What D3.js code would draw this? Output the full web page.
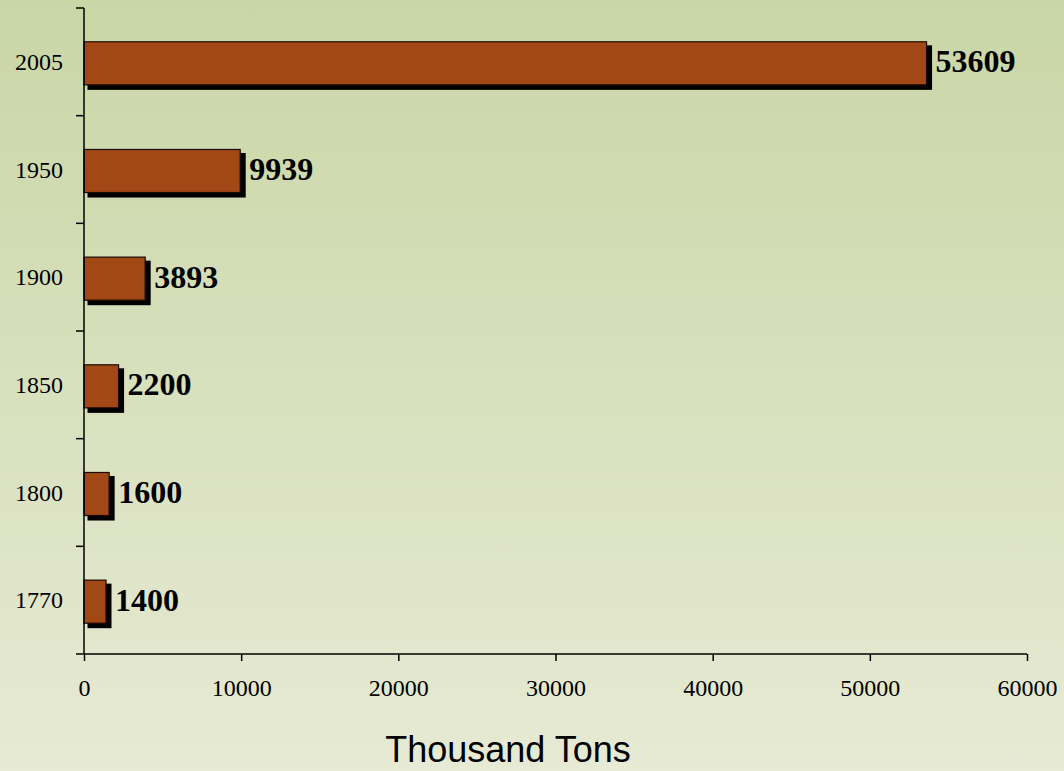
<!DOCTYPE html>
<html>
<head>
<meta charset="utf-8">
<script src="https://cdn.jsdelivr.net/npm/d3@7/dist/d3.min.js"></script>
<style>
  html, body { margin: 0; padding: 0; }
  svg { display: block; }
</style>
</head>
<body>
<script>
// Production by year, thousand tons
const years = ["2005", "1950", "1900", "1850", "1800", "1770"];
const values = [53609, 9939, 3893, 2200, 1600, 1400];
const xTicks = [0, 10000, 20000, 30000, 40000, 50000, 60000];
const axisTitle = "Thousand Tons";

const W = 1064, H = 771;
const plotLeft = 84, plotRight = 1027, plotTop = 8, plotBottom = 654;
const serif = "'Liberation Serif', 'Times New Roman', serif";

const svg = d3.select("body").append("svg")
  .attr("width", W).attr("height", H);

const defs = svg.append("defs");
const grad = defs.append("linearGradient")
  .attr("id", "bg").attr("x1", 0).attr("y1", 0).attr("x2", 0).attr("y2", 1);
grad.append("stop").attr("offset", "0%").attr("stop-color", "#c9d6a6");
grad.append("stop").attr("offset", "100%").attr("stop-color", "#e7ead4");
svg.append("rect").attr("width", W).attr("height", H).attr("fill", "url(#bg)");

const x = d3.scaleLinear().domain([0, 60000]).range([plotLeft, plotRight]);
const y = d3.scaleBand().domain(years).range([plotTop + 1.5, plotBottom + 1.5]).paddingInner(0.6).paddingOuter(0.3);
const yEdges = d3.scaleBand().domain(years).range([plotTop, plotBottom]);

const bars = svg.append("g");
const bh = y.bandwidth();

// drop shadows
bars.selectAll("rect.shadow").data(values).join("rect")
  .attr("class", "shadow")
  .attr("x", x(0) + 3.5)
  .attr("y", (d, i) => y(years[i]) + 3.5)
  .attr("width", d => x(d) - x(0) + 2)
  .attr("height", bh + 1.5)
  .attr("fill", "#000");

// bars
bars.selectAll("rect.bar").data(values).join("rect")
  .attr("class", "bar")
  .attr("x", x(0))
  .attr("y", (d, i) => y(years[i]))
  .attr("width", d => x(d) - x(0))
  .attr("height", bh)
  .attr("fill", "#a24816")
  .attr("stroke", "#1a0a00")
  .attr("stroke-width", 1.2);

// value labels
bars.selectAll("text.val").data(values).join("text")
  .attr("class", "val")
  .attr("x", d => x(d) + 9)
  .attr("y", (d, i) => y(years[i]) + bh / 2 + 9)
  .attr("font-family", serif)
  .attr("font-weight", "bold")
  .attr("font-size", 32)
  .attr("fill", "#000")
  .text(d => d);

// y axis: line and ticks at band edges
const yAxis = svg.append("g");
yAxis.append("line")
  .attr("x1", plotLeft).attr("x2", plotLeft).attr("y1", plotTop).attr("y2", plotBottom)
  .attr("stroke", "#000").attr("stroke-width", 1.5);
const edges = years.map(d => yEdges(d)).concat([plotBottom]);
yAxis.selectAll("line.tick").data(edges).join("line")
  .attr("class", "tick")
  .attr("x1", plotLeft - 8).attr("x2", plotLeft)
  .attr("y1", d => d).attr("y2", d => d)
  .attr("stroke", "#000").attr("stroke-width", 1.5);
yAxis.selectAll("text").data(years).join("text")
  .attr("x", plotLeft - 21)
  .attr("y", d => yEdges(d) + yEdges.bandwidth() / 2 + 8)
  .attr("text-anchor", "end")
  .attr("font-family", serif)
  .attr("font-size", 24)
  .attr("fill", "#000")
  .text(d => d);

// x axis
const xAxis = svg.append("g")
  .attr("transform", `translate(0,${plotBottom})`)
  .call(d3.axisBottom(x).tickValues(xTicks).tickSize(7).tickPadding(18).tickFormat(d3.format("d")));
xAxis.select(".domain").attr("stroke", "#000").attr("stroke-width", 1.5)
  .attr("d", `M${plotLeft},0H${plotRight}`);
xAxis.selectAll(".tick line").attr("stroke", "#000").attr("stroke-width", 1.5);
xAxis.selectAll(".tick text")
  .attr("font-family", serif)
  .attr("font-size", 24)
  .attr("fill", "#000");

svg.append("text")
  .attr("x", 508)
  .attr("y", 762)
  .attr("text-anchor", "middle")
  .attr("font-family", "'Liberation Sans', Arial, sans-serif")
  .attr("font-size", 36)
  .attr("fill", "#000")
  .text(axisTitle);
</script>
</body>
</html>
